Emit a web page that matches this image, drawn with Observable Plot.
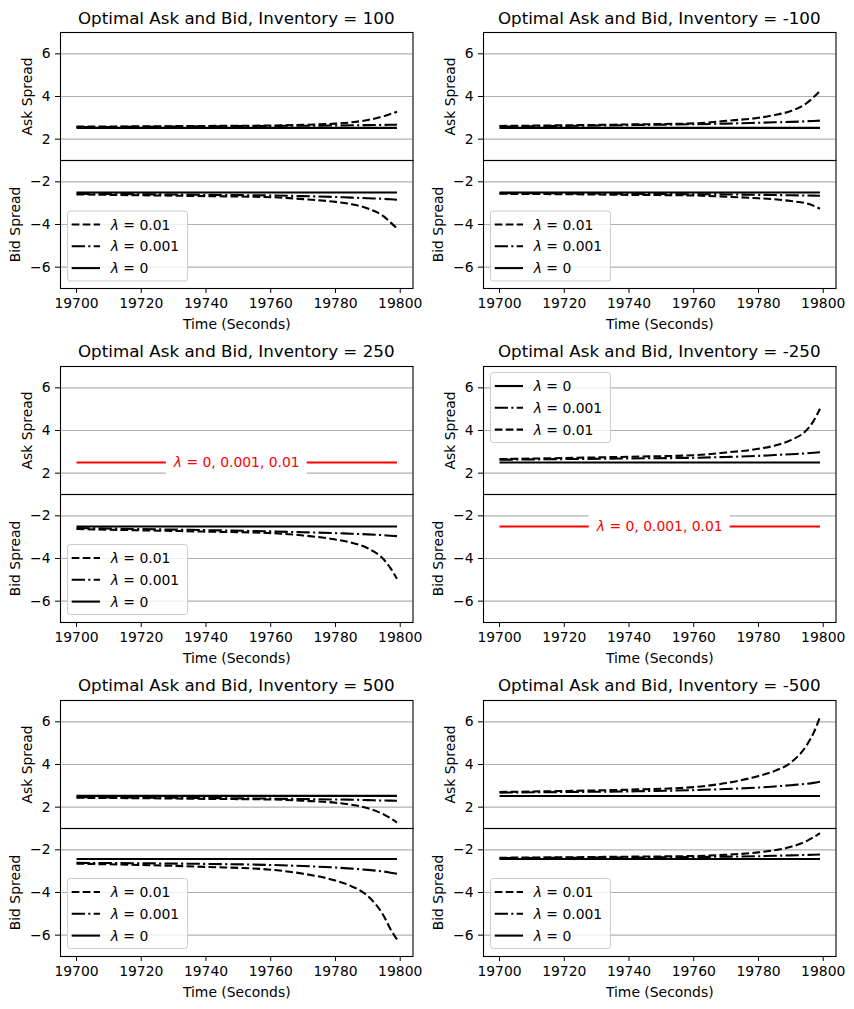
<!DOCTYPE html>
<html><head><meta charset="utf-8">
<script src="https://cdn.jsdelivr.net/npm/d3@7"></script>
<script src="https://cdn.jsdelivr.net/npm/@observablehq/plot@0.6"></script>
<style>
body{margin:0;background:#fff;}
#fig{position:relative;width:854px;height:1009px;background:#fff;font-family:"DejaVu Sans";overflow:hidden;}
#fig .sub{position:absolute;}
#overlay{position:absolute;left:0;top:0;pointer-events:none;}
</style></head><body><div id="fig"></div>
<script>
// ---------- data ----------
const times = [19700, 19720, 19740, 19760, 19770, 19780, 19785, 19790, 19795, 19797, 19799];
const inventories = [100, -100, 250, -250, 500, -500];
const xTicks = [19700, 19720, 19740, 19760, 19780, 19800];
const askTicks = [2, 4, 6];
const bidTicks = [-2, -4, -6];
const annotationLabel = "λ = 0, 0.001, 0.01";

// Inventory = 100
const ask100_l01  = [2.59, 2.60, 2.62, 2.64, 2.67, 2.73, 2.79, 2.90, 3.08, 3.18, 3.29];
const ask100_l001 = [2.57, 2.58, 2.60, 2.62, 2.63, 2.64, 2.65, 2.66, 2.67, 2.675, 2.68];
const ask100_l0   = [2.53, 2.53, 2.53, 2.53, 2.53, 2.53, 2.53, 2.53, 2.53, 2.53, 2.53];
const bid100_l01  = [-2.59, -2.63, -2.67, -2.72, -2.81, -2.94, -3.05, -3.25, -3.63, -3.90, -4.19];
const bid100_l001 = [-2.56, -2.58, -2.61, -2.64, -2.67, -2.71, -2.74, -2.77, -2.80, -2.82, -2.84];
const bid100_l0   = [-2.50, -2.50, -2.50, -2.50, -2.50, -2.50, -2.50, -2.50, -2.50, -2.50, -2.50];

// Inventory = -100
const askM100_l01  = [2.62, 2.65, 2.69, 2.74, 2.86, 3.00, 3.13, 3.32, 3.70, 3.96, 4.26];
const askM100_l001 = [2.59, 2.62, 2.66, 2.70, 2.73, 2.77, 2.79, 2.81, 2.84, 2.855, 2.87];
const askM100_l0   = [2.53, 2.53, 2.53, 2.53, 2.53, 2.53, 2.53, 2.53, 2.53, 2.53, 2.53];
const bidM100_l01  = [-2.56, -2.58, -2.61, -2.64, -2.70, -2.77, -2.82, -2.90, -3.02, -3.12, -3.26];
const bidM100_l001 = [-2.53, -2.54, -2.56, -2.58, -2.59, -2.61, -2.62, -2.63, -2.64, -2.645, -2.65];
const bidM100_l0   = [-2.50, -2.50, -2.50, -2.50, -2.50, -2.50, -2.50, -2.50, -2.50, -2.50, -2.50];

// Inventory = 250
const ask250_all  = [2.50, 2.50, 2.50, 2.50, 2.50, 2.50, 2.50, 2.50, 2.50, 2.50, 2.50];
const bid250_l01  = [-2.62, -2.68, -2.74, -2.81, -2.92, -3.11, -3.26, -3.52, -4.06, -4.45, -4.95];
const bid250_l001 = [-2.57, -2.62, -2.67, -2.73, -2.77, -2.81, -2.84, -2.87, -2.91, -2.93, -2.95];
const bid250_l0   = [-2.50, -2.50, -2.50, -2.50, -2.50, -2.50, -2.50, -2.50, -2.50, -2.50, -2.50];

// Inventory = -250
const askM250_l0   = [2.50, 2.50, 2.50, 2.50, 2.50, 2.50, 2.50, 2.50, 2.50, 2.50, 2.50];
const askM250_l001 = [2.63, 2.66, 2.69, 2.72, 2.76, 2.81, 2.85, 2.89, 2.93, 2.955, 2.98];
const askM250_l01  = [2.66, 2.71, 2.77, 2.84, 2.97, 3.14, 3.29, 3.55, 4.04, 4.44, 5.02];
const bidM250_all  = [-2.50, -2.50, -2.50, -2.50, -2.50, -2.50, -2.50, -2.50, -2.50, -2.50, -2.50];

// Inventory = 500
const ask500_l01  = [2.44, 2.42, 2.39, 2.36, 2.30, 2.21, 2.11, 1.95, 1.65, 1.48, 1.28];
const ask500_l001 = [2.47, 2.45, 2.43, 2.40, 2.38, 2.36, 2.35, 2.33, 2.31, 2.305, 2.30];
const ask500_l0   = [2.53, 2.53, 2.53, 2.53, 2.53, 2.53, 2.53, 2.53, 2.53, 2.53, 2.53];
const bid500_l01  = [-2.65, -2.71, -2.80, -2.93, -3.12, -3.44, -3.71, -4.17, -5.12, -5.72, -6.20];
const bid500_l001 = [-2.61, -2.63, -2.66, -2.71, -2.76, -2.83, -2.88, -2.94, -3.02, -3.07, -3.12];
const bid500_l0   = [-2.43, -2.43, -2.43, -2.43, -2.43, -2.43, -2.43, -2.43, -2.43, -2.43, -2.43];

// Inventory = -500
const askM500_l01  = [2.71, 2.76, 2.82, 2.94, 3.13, 3.46, 3.70, 4.09, 4.93, 5.47, 6.22];
const askM500_l001 = [2.68, 2.71, 2.74, 2.80, 2.85, 2.92, 2.97, 3.03, 3.10, 3.14, 3.19];
const askM500_l0   = [2.52, 2.52, 2.52, 2.52, 2.52, 2.52, 2.52, 2.52, 2.52, 2.52, 2.52];
const bidM500_l01  = [-2.37, -2.35, -2.32, -2.29, -2.23, -2.12, -2.02, -1.86, -1.58, -1.41, -1.22];
const bidM500_l001 = [-2.39, -2.37, -2.36, -2.34, -2.32, -2.30, -2.28, -2.26, -2.24, -2.23, -2.22];
const bidM500_l0   = [-2.43, -2.43, -2.43, -2.43, -2.43, -2.43, -2.43, -2.43, -2.43, -2.43, -2.43];

const stdOrder = ["0.01", "0.001", "0"];
const revOrder = ["0", "0.001", "0.01"];

const panels = [
  {inv: inventories[0], col: 0, row: 0, legend: "bid-lower", order: stdOrder,
   ask: {"0.01": ask100_l01, "0.001": ask100_l001, "0": ask100_l0},
   bid: {"0.01": bid100_l01, "0.001": bid100_l001, "0": bid100_l0}},
  {inv: inventories[1], col: 1, row: 0, legend: "bid-lower", order: stdOrder,
   ask: {"0.01": askM100_l01, "0.001": askM100_l001, "0": askM100_l0},
   bid: {"0.01": bidM100_l01, "0.001": bidM100_l001, "0": bidM100_l0}},
  {inv: inventories[2], col: 0, row: 1, legend: "bid-lower", order: stdOrder,
   askRed: ask250_all,
   bid: {"0.01": bid250_l01, "0.001": bid250_l001, "0": bid250_l0}},
  {inv: inventories[3], col: 1, row: 1, legend: "ask-upper", order: revOrder,
   ask: {"0": askM250_l0, "0.001": askM250_l001, "0.01": askM250_l01},
   bidRed: bidM250_all},
  {inv: inventories[4], col: 0, row: 2, legend: "bid-lower", order: stdOrder,
   ask: {"0.01": ask500_l01, "0.001": ask500_l001, "0": ask500_l0},
   bid: {"0.01": bid500_l01, "0.001": bid500_l001, "0": bid500_l0}},
  {inv: inventories[5], col: 1, row: 2, legend: "bid-lower", order: stdOrder,
   ask: {"0.01": askM500_l01, "0.001": askM500_l001, "0": askM500_l0},
   bid: {"0.01": bidM500_l01, "0.001": bidM500_l001, "0": bidM500_l0}}
];

// ---------- layout / style ----------
const dash = {"0.01": "7.7,3.3", "0.001": "13.3,3.3,2.1,3.3", "0": null};
const LW = 2.08, FS = 13.9;
const FW = 352.5, FH = 128;
const colOrigin = [0, 427], colFrameLeft = [60, 483];
const rowTop = [32, 365.5, 699.5];
const xDomain = [19695.05, 19803.95];
const fig = document.getElementById("fig");
const fmt = d3.format("d");

const rows = values => times.map((t, i) => ({t, v: values[i]}));

function makeSub(p, kind) {
  const isBid = kind === "bid";
  const col = p.col;
  const ml = colFrameLeft[col] - colOrigin[col];
  const ticks = isBid ? bidTicks : askTicks;
  const series = isBid ? p.bid : p.ask;
  const red = isBid ? p.bidRed : p.askRed;
  const marks = [Plot.gridY(ticks, {stroke: "#b0b0b0", strokeOpacity: 1, strokeWidth: 1.1})];
  if (series) {
    for (const lam of p.order) {
      marks.push(Plot.line(rows(series[lam]), {x: "t", y: "v", stroke: "black", strokeWidth: LW,
        strokeDasharray: dash[lam], strokeLinecap: "butt", strokeLinejoin: "round", curve: "monotone-x"}));
    }
  }
  if (red) {
    marks.push(Plot.line(rows(red), {x: "t", y: "v", stroke: "red", strokeWidth: LW, strokeLinecap: "butt"}));
    marks.push(Plot.text([{t: d3.mean([times[0], times[times.length - 1]]), v: d3.mean(red), label: annotationLabel}],
      {x: "t", y: "v", text: "label", fill: "red", fontSize: FS, lineAnchor: "middle"}));
  }
  marks.push(Plot.frame({stroke: "black", strokeWidth: 1.1}));
  marks.push(Plot.axisY(ticks, {tickSize: 5, tickPadding: 5, tickFormat: fmt, fontSize: FS,
    label: isBid ? "Bid Spread" : "Ask Spread", labelAnchor: "center", labelArrow: "none", labelOffset: isBid ? 50 : 38}));
  if (isBid) {
    marks.push(Plot.axisX(xTicks, {tickSize: 5, tickPadding: 5, tickFormat: fmt, fontSize: FS,
      label: "Time (Seconds)", labelAnchor: "center", labelArrow: "none", labelOffset: 40}));
  }
  const mb = isBid ? 48 : 1;
  const svg = Plot.plot({
    width: 427, height: 1 + FH + mb,
    marginLeft: ml, marginRight: 427 - ml - FW, marginTop: 1, marginBottom: mb,
    x: {domain: xDomain, axis: null},
    y: {domain: isBid ? [-7, -1] : [1, 7], axis: null},
    style: {fontFamily: "DejaVu Sans", fontSize: FS + "px", color: "black", background: "transparent", overflow: "visible"},
    marks
  });
  const div = document.createElement("div");
  div.className = "sub";
  div.style.left = colOrigin[col] + "px";
  div.style.top = (rowTop[p.row] + (isBid ? FH : 0) - 1) + "px";
  div.appendChild(svg);
  fig.appendChild(div);
  if (red) {
    const g = svg.querySelector('g[aria-label="text"]');
    if (g) {
      g.querySelectorAll("text").forEach(t => {
        const txt = t.textContent;
        const rest = txt.replace(/^λ/, "");
        t.textContent = "";
        const ts = document.createElementNS("http://www.w3.org/2000/svg", "tspan");
        ts.setAttribute("font-style", "italic");
        ts.textContent = "λ";
        t.appendChild(ts);
        t.appendChild(document.createTextNode(rest));
        const bb = t.getBBox();
        const r = document.createElementNS("http://www.w3.org/2000/svg", "rect");
        const px = 7, py = 4.5;
        r.setAttribute("x", bb.x - px);
        r.setAttribute("y", bb.y - py);
        r.setAttribute("width", bb.width + 2 * px);
        r.setAttribute("height", bb.height + 2 * py);
        r.setAttribute("fill", "white");
        if (t.getAttribute("transform")) r.setAttribute("transform", t.getAttribute("transform"));
        t.parentNode.insertBefore(r, t);
      });
    }
  }
}

for (const p of panels) { makeSub(p, "ask"); makeSub(p, "bid"); }

// ---------- overlay: titles and legends ----------
const ov = d3.select(fig).append("svg").attr("id", "overlay").attr("width", 854).attr("height", 1009)
  .style("font-family", "DejaVu Sans");

for (const p of panels) {
  const fl = colFrameLeft[p.col], top = rowTop[p.row];
  ov.append("text").attr("x", fl + FW / 2).attr("y", top - 8.3).attr("text-anchor", "middle")
    .attr("font-size", 16.7).attr("fill", "black").text(`Optimal Ask and Bid, Inventory = ${p.inv}`);

  const bw = 120, bh = 70;
  const bx = fl + 7.5;
  const by = p.legend === "ask-upper" ? top + 7 : top + 2 * FH - 7 - bh;
  const lg = ov.append("g");
  lg.append("rect").attr("x", bx).attr("y", by).attr("width", bw).attr("height", bh).attr("rx", 2.8)
    .attr("fill", "white").attr("fill-opacity", 0.8).attr("stroke", "#cccccc").attr("stroke-width", 1);
  p.order.forEach((lam, i) => {
    const y = by + 13.5 + i * 21.8;
    lg.append("line").attr("x1", bx + 4.2).attr("x2", bx + 32.5).attr("y1", y).attr("y2", y)
      .attr("stroke", "black").attr("stroke-width", LW).attr("stroke-dasharray", dash[lam]);
    const t = lg.append("text").attr("x", bx + 43.2).attr("y", y).attr("dy", "0.36em")
      .attr("font-size", FS).attr("fill", "black");
    t.append("tspan").attr("font-style", "italic").text("λ");
    t.append("tspan").text(` = ${lam}`);
  });
}
</script></body></html>
